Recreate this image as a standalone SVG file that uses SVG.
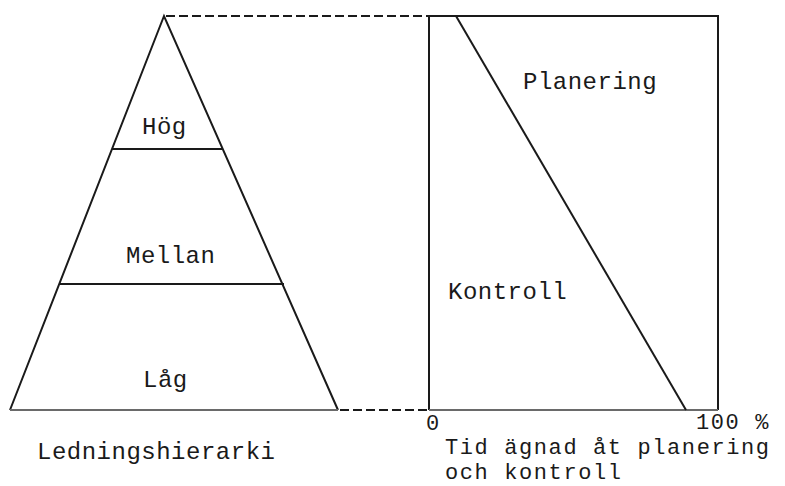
<svg xmlns="http://www.w3.org/2000/svg" width="785" height="486" viewBox="0 0 785 486">
<style>
.ln{stroke:#1a1a1a;stroke-width:2;fill:none}
.base{stroke:#6a6a6a;stroke-width:2.2;fill:none}
.dash{stroke:#1a1a1a;stroke-width:2;fill:none;stroke-dasharray:9 4}
.t{font-family:"Liberation Mono","Courier New",monospace;font-size:24px;letter-spacing:0.5px;fill:#1a1a1a}
.s{font-size:22px;letter-spacing:1.6px}
</style>
<rect width="785" height="486" fill="#fff"/>
<g id="pyramid">
<path class="ln" d="M10,410 L164,16 L338,410"/>
<line class="base" x1="10" y1="410" x2="338" y2="410"/>
<line class="ln" x1="112" y1="149" x2="223" y2="149"/>
<line class="ln" x1="59" y1="284" x2="284" y2="284"/>
<text class="t" x="142" y="134">Hög</text>
<text class="t" x="126" y="263">Mellan</text>
<text class="t" x="143" y="387">Låg</text>
<text class="t" x="37" y="459">Ledningshierarki</text>
</g>
<g id="chart">
<path class="ln" d="M429,410 L429,16 L718,16 L718,410"/>
<line class="base" x1="429" y1="410" x2="718" y2="410"/>
<line class="ln" x1="456" y1="16" x2="686" y2="410"/>
<text class="t" x="523" y="89">Planering</text>
<text class="t" x="448" y="299">Kontroll</text>
<text class="t s" x="426" y="430">0</text>
<text class="t s" x="696" y="429">100 %</text>
<text class="t s" x="445" y="454">Tid ägnad åt planering</text>
<text class="t s" x="445" y="479">och kontroll</text>
</g>
<g id="connectors">
<line class="dash" x1="166" y1="16" x2="428" y2="16"/>
<line class="dash" x1="340" y1="410" x2="428" y2="410"/>
</g>
</svg>
